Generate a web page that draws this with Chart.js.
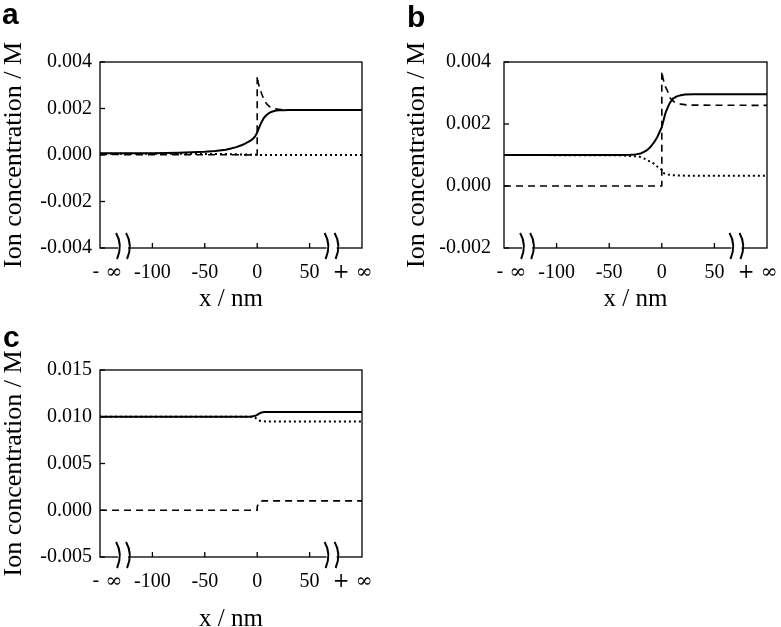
<!DOCTYPE html>
<html><head><meta charset="utf-8">
<script src="https://cdn.jsdelivr.net/npm/chart.js@4.4.1/dist/chart.umd.min.js"></script>
<style>
html,body{margin:0;padding:0;background:#fff;overflow:hidden;}
#wrap{position:relative;width:781px;height:627px;background:#fff;overflow:hidden;}
canvas{position:absolute;display:block;}
</style></head><body>
<div id="wrap">
<canvas id="ca" width="380" height="315" style="left:0;top:0"></canvas>
<canvas id="cb" width="391" height="315" style="left:390px;top:0"></canvas>
<canvas id="cc" width="380" height="320" style="left:0;top:315px"></canvas>
</div>
<script>
// ---- tick labels / axis breaks ----
const xTickValues = [-143, -100, -50, 0, 50, 91];
const xTickLabels = ['- \u221E', '-100', '-50', '0', '50', '+ \u221E'];
const xTickMarks = [-100, -50, 0, 50];
const xBreaks = [-128, 71];

// ---- panel a ----
const aSolidX = [-150, -100, -75, -50, -40, -30, -25, -20, -15, -12, -9, -6, -4, -2, 0, 2, 4, 6, 8, 10, 12, 14, 17, 20, 25, 30, 100];
const aSolidY = [0.00007, 0.00008, 0.0001, 0.00014, 0.00017, 0.00023, 0.00028, 0.00034, 0.00042, 0.00048, 0.00055, 0.00063, 0.0007, 0.0008, 0.00097, 0.0012, 0.0014, 0.00157, 0.00168, 0.00176, 0.00182, 0.00186, 0.0019, 0.00192, 0.00193, 0.00194, 0.00194];
const aDashX = [-150, -20, 0, 0, 1, 2, 3, 4.5, 6, 7.5, 9, 12, 16, 22, 30, 100];
const aDashY = [0.00002, 0.00001, 0.0, 0.0034, 0.0031, 0.00295, 0.0028, 0.0026, 0.00244, 0.00231, 0.0022, 0.00207, 0.002, 0.00196, 0.00194, 0.00194];
const aDotX = [-150, -60, -30, -10, 0, 5, 100];
const aDotY = [0.00005, 0.00005, 0.00004, 0.00002, 0.00001, 0.0, 0.0];

// ---- panel b ----
const bSolidX = [-150, -40, -30, -25, -20, -17, -14, -12, -10, -8, -6, -4, -2, 0, 1.5, 3, 4, 5, 6.5, 8, 9.5, 11, 13, 15, 18, 22, 30, 100];
const bSolidY = [0.001, 0.001, 0.00101, 0.00102, 0.00105, 0.0011, 0.00116, 0.00122, 0.00129, 0.00138, 0.00148, 0.0016, 0.00175, 0.0019, 0.0021, 0.0023, 0.0024, 0.00248, 0.0026, 0.0027, 0.00277, 0.00283, 0.00287, 0.0029, 0.00293, 0.00295, 0.00296, 0.00296];
const bDashX = [-150, 0, 0, 1, 2, 3.5, 5, 6.5, 8, 10, 12, 15, 18, 25, 100];
const bDashY = [0.0, 0.0, 0.0037, 0.0035, 0.00336, 0.0032, 0.0031, 0.00296, 0.00284, 0.00276, 0.00271, 0.00267, 0.00264, 0.00261, 0.0026];
const bDotX = [-150, -40, -30, -25, -21, -18, -15, -12, -8, -4, -2, 0, 1, 3, 6, 10, 15, 25, 100];
const bDotY = [0.001, 0.00099, 0.00097, 0.00096, 0.00094, 0.0009, 0.00086, 0.0008, 0.00073, 0.00062, 0.00057, 0.00052, 0.00043, 0.0004, 0.00037, 0.00035, 0.00034, 0.00033, 0.00033];

// ---- panel c ----
const cSolidX = [-150, -8, -5, -3, -2, -1, 0, 1, 2, 3, 4, 5.5, 7, 100];
const cSolidY = [0.01, 0.01, 0.01002, 0.01007, 0.0101, 0.01015, 0.0102, 0.01028, 0.01035, 0.0104, 0.01045, 0.01048, 0.0105, 0.0105];
const cDashX = [-150, 0, 0, 2, 5, 100];
const cDashY = [0.0, 0.0, 0.0004, 0.0009, 0.001, 0.001];
const cDotX = [-150, -6, -4, -2, -1, 0, 1, 2, 3.5, 5, 8, 100];
const cDotY = [0.01, 0.01, 0.00998, 0.0099, 0.00983, 0.00975, 0.00967, 0.0096, 0.00955, 0.00952, 0.0095, 0.0095];

const SERIF = '"Liberation Serif", "Times New Roman", serif';
const SYM = '"DejaVu Serif", serif';

const pts = (xs, ys) => xs.map((x, i) => ({x: x, y: ys[i]}));

const decor = {
  id: 'decor',
  afterDatasetsDraw(chart, args, opts) {
    const ctx = chart.ctx, ca = chart.chartArea, xs = chart.scales.x, ys = chart.scales.y;
    ctx.save();
    ctx.strokeStyle = '#000';
    ctx.lineWidth = 1.3;
    ys.ticks.forEach(t => {
      const py = ys.getPixelForValue(t.value);
      ctx.beginPath(); ctx.moveTo(ca.left, py); ctx.lineTo(ca.left + 5, py); ctx.stroke();
    });
    xTickMarks.forEach(v => {
      const px = xs.getPixelForValue(v);
      ctx.beginPath(); ctx.moveTo(px, ca.bottom); ctx.lineTo(px, ca.bottom - 5); ctx.stroke();
    });
    ctx.strokeRect(ca.left, ca.top, ca.right - ca.left, ca.bottom - ca.top);
    xBreaks.forEach(v => {
      const px = xs.getPixelForValue(v);
      ctx.fillStyle = '#fff';
      ctx.fillRect(px - 5, ca.bottom - 2, 10, 4);
      ctx.lineWidth = 2;
      [-5, 5].forEach(dx => {
        ctx.beginPath();
        ctx.moveTo(px + dx - 2, ca.bottom - 15);
        ctx.quadraticCurveTo(px + dx + 5, ca.bottom - 3, px + dx - 1, ca.bottom + 11);
        ctx.stroke();
      });
    });
    ctx.fillStyle = '#000';
    ctx.font = 'bold 30px "Liberation Sans", Arial, sans-serif';
    ctx.textBaseline = 'alphabetic';
    ctx.fillText(opts.letter, opts.lx, opts.ly);
    ctx.restore();
  }
};

function ds(data, style) {
  const base = {data: data, borderColor: '#000', backgroundColor: '#000', pointRadius: 0, fill: false, tension: 0, borderCapStyle: 'butt', borderJoinStyle: 'round'};
  if (style === 'solid') { base.borderWidth = 2; }
  if (style === 'dash') { base.borderWidth = 1.6; base.borderDash = [7, 5]; }
  if (style === 'dot') { base.borderWidth = 2; base.borderDash = [2, 3]; }
  return base;
}

function makeChart(id, cfg) {
  return new Chart(document.getElementById(id), {
    type: 'line',
    data: {datasets: [ds(pts(cfg.dotX, cfg.dotY), 'dot'), ds(pts(cfg.dashX, cfg.dashY), 'dash'), ds(pts(cfg.solidX, cfg.solidY), 'solid')]},
    plugins: [decor],
    options: {
      responsive: false, animation: false,
      layout: {padding: {top: cfg.padTop, right: cfg.padRight, left: 0, bottom: 0}},
      plugins: {legend: {display: false}, tooltip: {enabled: false}, decor: {letter: cfg.letter, lx: cfg.lx, ly: cfg.ly}},
      scales: {
        x: {
          type: 'linear', min: -150, max: 100,
          grid: {display: false, drawTicks: false}, border: {display: false},
          afterBuildTicks: s => { s.ticks = xTickValues.map(v => ({value: v})); },
          afterFit: s => { s.height = cfg.xHeight; s.paddingLeft = 0; s.paddingRight = 0; },
          ticks: {autoSkip: false, maxRotation: 0, padding: 13, color: '#000',
            font: c => (c.tick && (c.tick.value === -143 || c.tick.value === 91)) ? {family: SYM, size: 20} : {family: SERIF, size: 20},
            callback: v => xTickLabels[xTickValues.indexOf(v)]},
          title: {display: true, text: 'x / nm', color: '#000', font: {family: SERIF, size: 25}, padding: {top: 0, bottom: 1}}
        },
        y: {
          min: cfg.yMin, max: cfg.yMax,
          grid: {display: false, drawTicks: false}, border: {display: false},
          afterFit: s => { s.width = cfg.yWidth; s.paddingTop = 0; s.paddingBottom = 0; },
          ticks: {stepSize: cfg.yStep, padding: cfg.yPad, color: '#000', font: {family: SERIF, size: 20},
            callback: v => Math.abs(v) < 1e-9 ? '0.000' : v.toFixed(3)},
          title: {display: true, text: 'Ion concentration / M', color: '#000', font: {family: SERIF, size: 26}, padding: {top: cfg.titlePad, bottom: 0}}
        }
      }
    }
  });
}

makeChart('ca', {solidX: aSolidX, solidY: aSolidY, dashX: aDashX, dashY: aDashY, dotX: aDotX, dotY: aDotY,
  yMin: -0.004, yMax: 0.004, yStep: 0.002, padTop: 62, padRight: 18, yWidth: 100, xHeight: 67, yPad: 8, titlePad: -1,
  letter: 'a', lx: 2, ly: 24});
makeChart('cb', {solidX: bSolidX, solidY: bSolidY, dashX: bDashX, dashY: bDashY, dotX: bDotX, dotY: bDotY,
  yMin: -0.002, yMax: 0.004, yStep: 0.002, padTop: 62, padRight: 14, yWidth: 114, xHeight: 67, yPad: 13, titlePad: 12,
  letter: 'b', lx: 17, ly: 27});
makeChart('cc', {solidX: cSolidX, solidY: cSolidY, dashX: cDashX, dashY: cDashY, dotX: cDotX, dotY: cDotY,
  yMin: -0.005, yMax: 0.015, yStep: 0.005, padTop: 55, padRight: 18, yWidth: 100, xHeight: 78, yPad: 8, titlePad: -1,
  letter: 'c', lx: 3, ly: 32});
</script>
</body></html>
